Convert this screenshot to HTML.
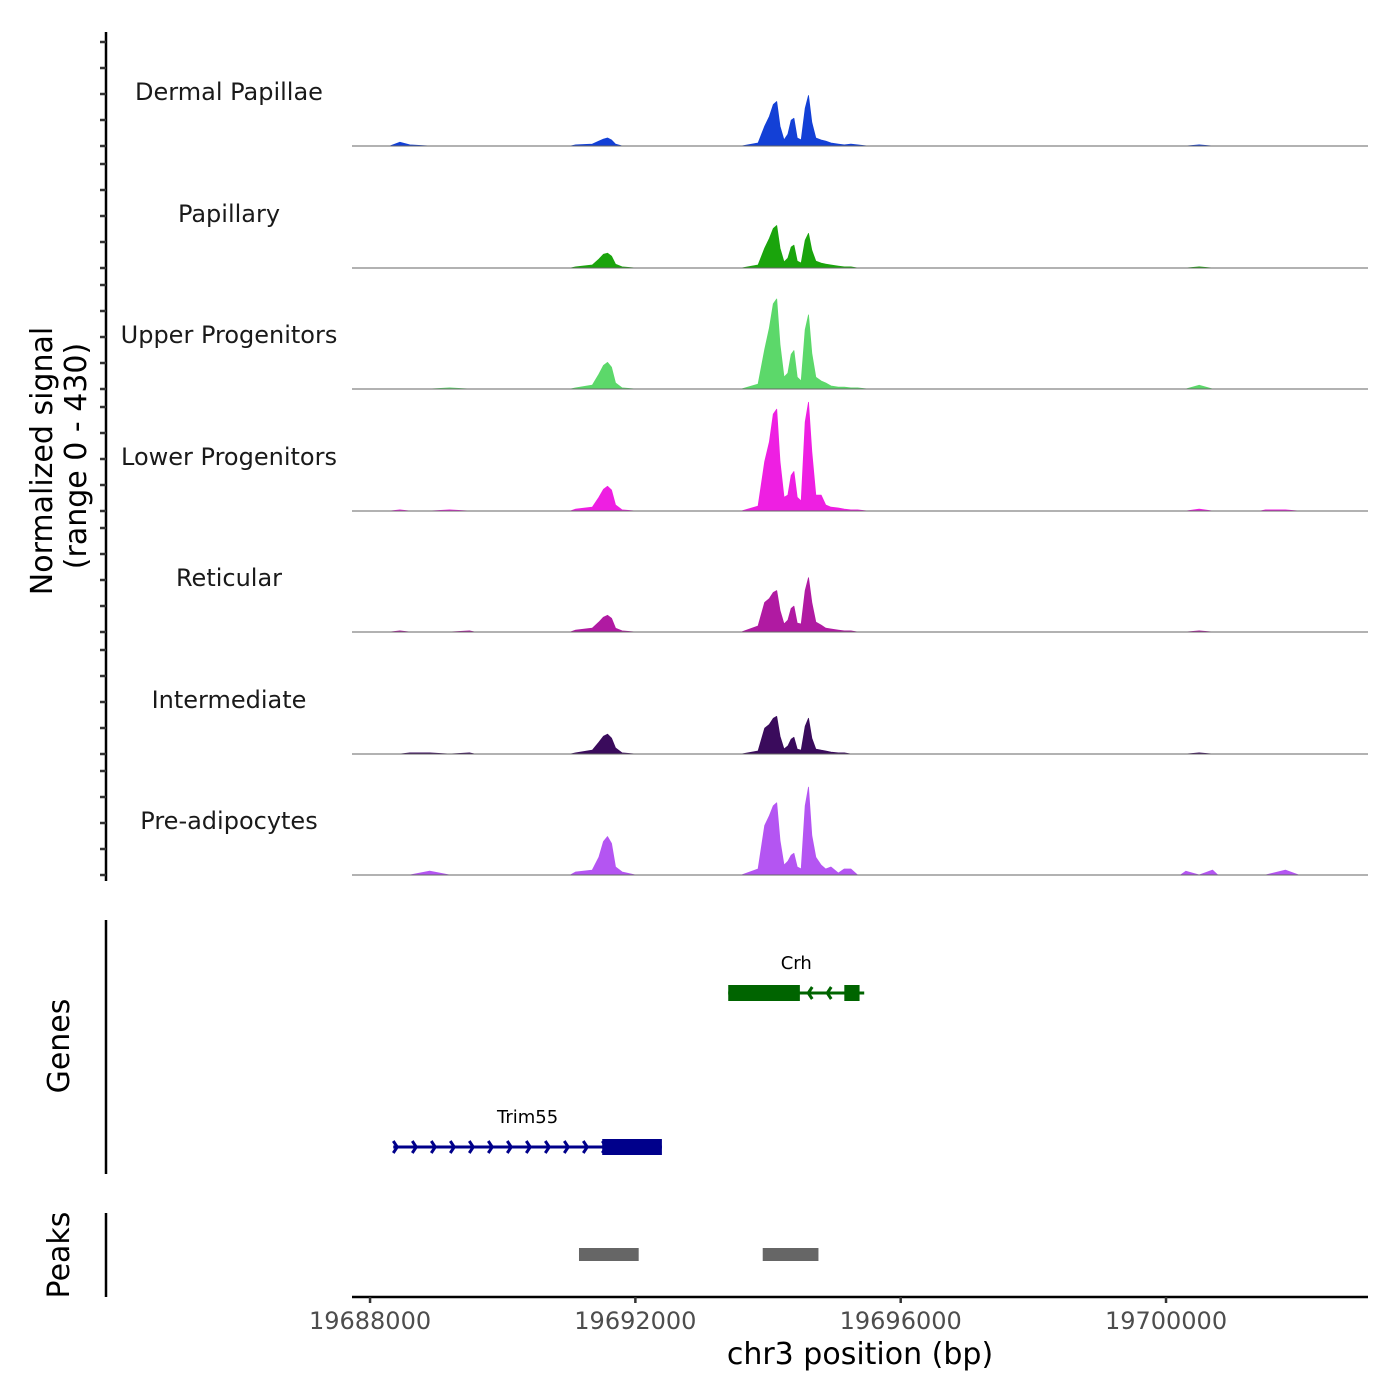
<!DOCTYPE html>
<html><head><meta charset="utf-8"><style>
html,body{margin:0;padding:0;background:#fff;}
svg{display:block;font-family:"DejaVu Sans","Liberation Sans",sans-serif;}
</style></head><body>
<svg id="chart" width="1400" height="1400" viewBox="0 0 1400 1400" xmlns="http://www.w3.org/2000/svg">
<g id="tracks"></g>
<g id="genes"></g>
<g id="peaks"></g>
<g id="axes"></g>
</svg>
<script>
// ---- data ----
const positions = [19688300,19688450,19688600,19688900,19689200,19689500,19691100,19691350,19691450,19691520,19691580,19691640,19691700,19691800,19692000,19693600,19693850,19693950,19694020,19694080,19694130,19694180,19694240,19694300,19694350,19694390,19694440,19694500,19694560,19694610,19694660,19694720,19694800,19694870,19694950,19695060,19695150,19695250,19695350,19695500,19695700,19700300,19700500,19700700,19701500,19701800,19702000];
const trackNames = ["Dermal Papillae","Papillary","Upper Progenitors","Lower Progenitors","Reticular","Intermediate","Pre-adipocytes"];
const trackColors = ["#1340d6","#1aa40c","#5cd86a","#ee1fe2","#b01aa2","#3a0b5c","#b455f2"];
const sigDermal = [0,14,4,0,0,0,4,7,18,25,29,22,7,0,0,0,11,72,108,151,162,72,22,43,94,101,29,22,137,184,86,29,22,18,11,7,4,7,4,0,0,0,4,0,0,0,0];
const sigPapillary = [0,0,0,0,0,0,4,11,32,50,54,43,14,4,0,0,11,72,108,144,155,72,22,36,76,83,25,18,101,126,65,25,18,14,11,7,4,4,0,0,0,0,4,0,0,0,0];
const sigUpper = [0,0,0,0,4,0,4,14,54,86,97,79,22,4,0,0,18,144,223,310,328,162,43,58,126,140,43,29,216,270,130,43,29,22,11,7,7,4,4,0,0,0,14,0,0,0,0];
const sigLower = [0,4,0,0,4,0,7,14,50,79,90,76,22,4,0,0,18,180,252,353,371,180,50,58,130,144,50,36,324,396,216,58,58,22,14,11,7,4,4,0,0,0,7,0,4,4,0];
const sigReticular = [0,4,0,0,0,4,7,14,36,54,61,50,14,4,0,0,22,108,122,144,151,79,29,43,86,94,32,29,151,198,108,36,25,14,11,7,4,4,0,0,0,0,4,0,0,0,0];
const sigIntermediate = [0,0,4,4,0,4,4,14,43,65,72,58,22,4,0,0,11,94,108,130,137,65,18,29,54,61,18,14,101,130,58,18,14,11,7,4,4,0,0,0,0,0,4,0,0,0,0];
const sigPreadipo = [0,0,0,14,0,0,11,18,65,122,140,115,29,11,0,0,22,180,216,252,263,126,36,50,72,79,29,22,252,320,144,65,36,22,29,7,22,22,0,0,0,14,0,18,0,18,0];
const signals = [sigDermal,sigPapillary,sigUpper,sigLower,sigReticular,sigIntermediate,sigPreadipo];
const xTicks = [19688000,19692000,19696000,19700000];
const genes = [
  {name:"Crh",start:19693400,end:19695450,cdsStart:19693400,cdsEnd:19694480,cds2Start:19695150,cds2End:19695380,strand:-1,row:0,color:"#006400"},
  {name:"Trim55",start:19688350,end:19692400,cdsStart:19691500,cdsEnd:19692400,cds2Start:null,cds2End:null,strand:1,row:1,color:"#00008b"}
];
const peakStarts = [19691150,19693920];
const peakEnds = [19692050,19694760];

// ---- scales ----
const X0=352,X1=1368,BP0=19687728,BP1=19703045;
function xs(bp){return X0+(bp-BP0)/(BP1-BP0)*(X1-X0);}
const yMax=430, trackH=118;
const baselines=[146,268,389,511,632,754,875];
function ys(v,b){return b-v/yMax*trackH;}
const NS="http://www.w3.org/2000/svg";
function mk(tag,attrs,parent){const e=document.createElementNS(NS,tag);for(const k in attrs)e.setAttribute(k,attrs[k]);parent.appendChild(e);return e;}

const gT=document.getElementById('tracks');
const GAP=300, EDGE=80;
signals.forEach((vals,i)=>{
  const b=baselines[i];
  let d="M"+xs(positions[0]-EDGE).toFixed(1)+","+b;
  positions.forEach((p,j)=>{
    if(j>0 && p-positions[j-1]>GAP){
      d+=" L"+xs(positions[j-1]+EDGE).toFixed(1)+","+b+" L"+xs(p-EDGE).toFixed(1)+","+b;
    }
    d+=" L"+xs(p).toFixed(1)+","+ys(vals[j],b).toFixed(1);
  });
  d+=" L"+xs(positions[positions.length-1]+EDGE).toFixed(1)+","+b+" Z";
  const area=mk('path',{d:d,fill:trackColors[i],stroke:trackColors[i],'stroke-width':0.8,'stroke-linejoin':'round'},gT);
  
  
  const base=mk('line',{x1:X0,x2:X1,y1:b,y2:b,stroke:'#666',"stroke-width":1},gT);
  
  
  const lab=mk('text',{x:229,y:b-46,'text-anchor':'middle','font-size':24,fill:'#1a1a1a'},gT);
  lab.textContent=trackNames[i];
  
  
});

// genes
const gG=document.getElementById('genes');
const rowY=[993,1147];
genes.forEach(g=>{
  const y=rowY[g.row];
  const grp=mk('g',{},gG);
  
  
  mk('line',{x1:xs(g.start),x2:xs(g.end),y1:y,y2:y,stroke:g.color,'stroke-width':3},grp);
  const step=19;
  for(let x=xs(g.start)+4;x<xs(g.end)-2;x+=step){
    const dir=g.strand;
    mk('polyline',{points:(x-4*dir)+","+(y-6)+" "+x+","+y+" "+(x-4*dir)+","+(y+6),fill:'none',stroke:g.color,'stroke-width':3},grp);
  }
  mk('rect',{x:xs(g.cdsStart),y:y-8,width:xs(g.cdsEnd)-xs(g.cdsStart),height:16,fill:g.color},grp);
  if(g.cds2Start!==null) mk('rect',{x:xs(g.cds2Start),y:y-8,width:xs(g.cds2End)-xs(g.cds2Start),height:16,fill:g.color},grp);
  const t=mk('text',{x:(xs(g.start)+xs(g.end))/2,y:y-24,'text-anchor':'middle','font-size':18,fill:'#000'},grp);
  t.textContent=g.name;
  
  
});

// peaks
const gP=document.getElementById('peaks');
peakStarts.forEach((s,i)=>{
  const r=mk('rect',{x:xs(s),y:1248,width:xs(peakEnds[i])-xs(s),height:13,fill:'#666'},gP);
  
  
});

// axes
const gA=document.getElementById('axes');
function line(a,name){const l=mk('line',Object.assign({stroke:'#000','stroke-width':2.5},a),gA);return l;}
line({x1:106,x2:106,y1:32,y2:881},'signal-y-axis');
line({x1:106,x2:106,y1:920,y2:1174},'genes-y-axis');
line({x1:106,x2:106,y1:1213,y2:1297},'peaks-y-axis');
line({x1:352,x2:1368,y1:1297,y2:1297},'x-axis');
baselines.forEach(b=>{
  for(let k=0;k<5;k++){
    const y=b-k*26;
    const t=mk('line',{x1:100,x2:106,y1:y,y2:y,stroke:'#333','stroke-width':2.5},gA);
    
    
  }
});
xTicks.forEach(v=>{
  const x=xs(v);
  const t=mk('line',{x1:x,x2:x,y1:1297,y2:1303,stroke:'#333','stroke-width':2.5},gA);
  
  
  const l=mk('text',{x:x,y:1329,'text-anchor':'middle','font-size':24,fill:'#4d4d4d'},gA);
  l.textContent=String(v);
  
  
});
function txt(str,attrs,name){const t=mk('text',Object.assign({'text-anchor':'middle',fill:'#000'},attrs),gA);t.textContent=str;return t;}
txt('chr3 position (bp)',{x:860,y:1364,'font-size':30},'x-axis-title');
txt('Normalized signal',{x:0,y:0,'font-size':30,transform:'translate(52,461) rotate(-90)'},'y-axis-title');
txt('(range 0 - 430)',{x:0,y:0,'font-size':30,transform:'translate(86,456) rotate(-90)'},'y-axis-subtitle');
txt('Genes',{x:0,y:0,'font-size':30,transform:'translate(69,1046) rotate(-90)'},'genes-axis-title');
txt('Peaks',{x:0,y:0,'font-size':30,transform:'translate(69,1255) rotate(-90)'},'peaks-axis-title');
</script>
</body></html>
